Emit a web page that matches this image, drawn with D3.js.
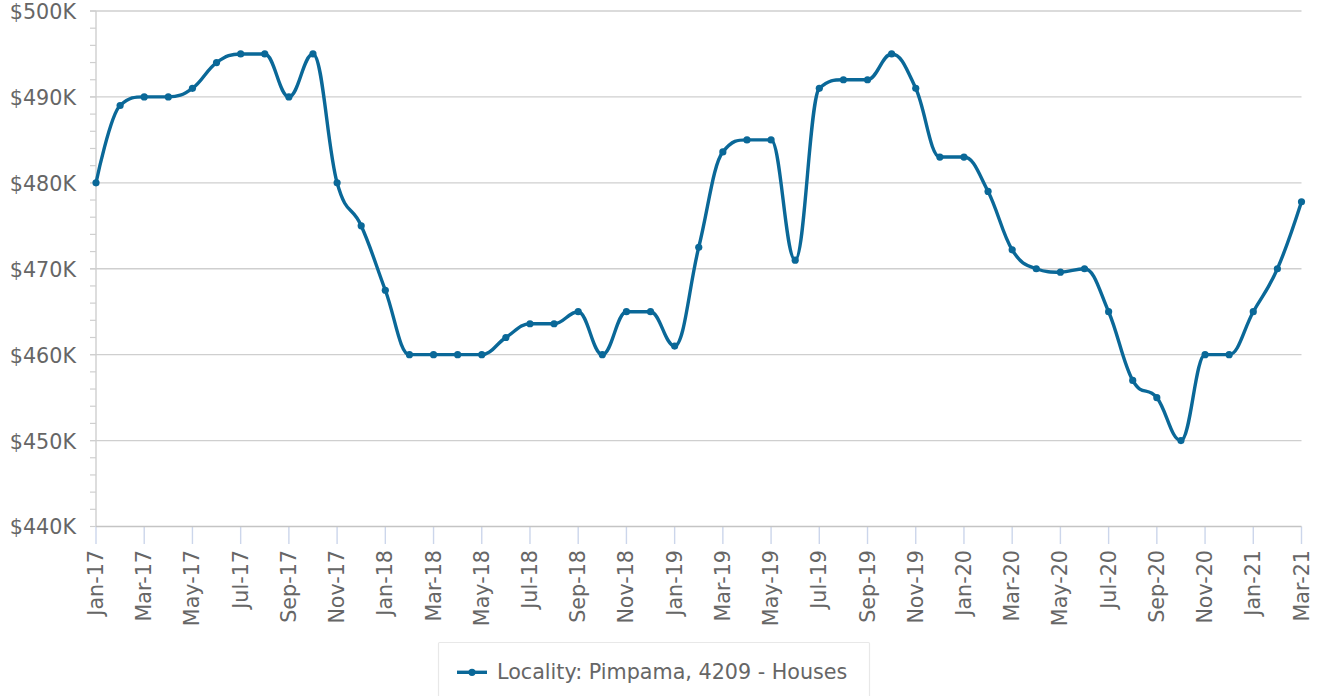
<!DOCTYPE html>
<html>
<head>
<meta charset="utf-8">
<script src="https://cdn.jsdelivr.net/npm/d3@7"></script>
<style>
  html, body { margin: 0; padding: 0; background: #fff; }
  svg { display: block; }
  text { font-family: "DejaVu Sans", sans-serif; fill: #666; }
</style>
</head>
<body>
<svg id="chart" width="1319" height="696"></svg>
<script>
// ---- data ----
const months = [
  "Jan-17","Feb-17","Mar-17","Apr-17","May-17","Jun-17","Jul-17","Aug-17","Sep-17","Oct-17","Nov-17","Dec-17",
  "Jan-18","Feb-18","Mar-18","Apr-18","May-18","Jun-18","Jul-18","Aug-18","Sep-18","Oct-18","Nov-18","Dec-18",
  "Jan-19","Feb-19","Mar-19","Apr-19","May-19","Jun-19","Jul-19","Aug-19","Sep-19","Oct-19","Nov-19","Dec-19",
  "Jan-20","Feb-20","Mar-20","Apr-20","May-20","Jun-20","Jul-20","Aug-20","Sep-20","Oct-20","Nov-20","Dec-20",
  "Jan-21","Feb-21","Mar-21"
];
const values = [
  480, 489, 490, 490, 491, 494, 495, 495, 490, 495, 480, 475,
  467.5, 460, 460, 460, 460, 462, 463.6, 463.6, 465, 460, 465, 465,
  461, 472.5, 483.6, 485, 485, 471, 491, 492, 492, 495, 491, 483,
  483, 479, 472.2, 470, 469.6, 470, 465, 457, 455, 450, 460, 460,
  465, 470, 477.8
];
const yTicks = [440, 450, 460, 470, 480, 490, 500];
const yMinorTicks = d3.range(440, 501, 2);
const xTickLabels = months.filter((m, i) => i % 2 === 0);
const seriesName = "Locality: Pimpama, 4209 - Houses";

// ---- Highcharts-like spline curve ----
function HSpline(context) { this._context = context; }
HSpline.prototype = {
  areaStart() { this._line = 0; },
  areaEnd() { this._line = NaN; },
  lineStart() { this._pts = []; },
  point(px, py) { this._pts.push([+px, +py]); },
  lineEnd() {
    const p = this._pts, n = p.length, ctx = this._context;
    if (!n) return;
    const sm = 1.5, den = sm + 1;
    const lc = [], rc = [];
    for (let i = 0; i < n; i++) {
      const [cx, cy] = p[i];
      if (i === 0 || i === n - 1) { lc.push([cx, cy]); rc.push([cx, cy]); continue; }
      const [lx, ly] = p[i - 1], [nx, ny] = p[i + 1];
      let lcx = (sm * cx + lx) / den, lcy = (sm * cy + ly) / den;
      let rcx = (sm * cx + nx) / den, rcy = (sm * cy + ny) / den;
      if (rcx !== lcx) {
        const corr = ((rcy - lcy) * (rcx - cx)) / (rcx - lcx) + cy - rcy;
        lcy += corr; rcy += corr;
      }
      if (lcy > ly && lcy > cy) { lcy = Math.max(ly, cy); rcy = 2 * cy - lcy; }
      else if (lcy < ly && lcy < cy) { lcy = Math.min(ly, cy); rcy = 2 * cy - lcy; }
      if (rcy > ny && rcy > cy) { rcy = Math.max(ny, cy); lcy = 2 * cy - rcy; }
      else if (rcy < ny && rcy < cy) { rcy = Math.min(ny, cy); lcy = 2 * cy - rcy; }
      lc.push([lcx, lcy]); rc.push([rcx, rcy]);
    }
    ctx.moveTo(p[0][0], p[0][1]);
    for (let i = 1; i < n; i++) {
      ctx.bezierCurveTo(rc[i - 1][0], rc[i - 1][1], lc[i][0], lc[i][1], p[i][0], p[i][1]);
    }
  }
};
const curveHSpline = ctx => new HSpline(ctx);

// ---- layout ----
const svg = d3.select("#chart");
const plotLeft = 96, plotRight = 1301.5, plotTop = 11, plotBottom = 526.5;
const color = "#0a6898";
const fontSize = 20.7;

const x = d3.scalePoint().domain(months).range([plotLeft, plotRight]);
const y = d3.scaleLinear().domain([440, 500]).range([plotBottom, plotTop]);

// gridlines
svg.append("g").selectAll("line").data(yTicks.filter(v => v !== 440)).join("line")
  .attr("x1", plotLeft - 6).attr("x2", plotRight).attr("y1", d => y(d)).attr("y2", d => y(d))
  .attr("stroke", "#cfcfcf").attr("stroke-width", 1.4);

// y minor ticks
svg.append("g").selectAll("line").data(yMinorTicks).join("line")
  .attr("x1", plotLeft - 6).attr("x2", plotLeft).attr("y1", d => y(d)).attr("y2", d => y(d))
  .attr("stroke", "#cfcfcf").attr("stroke-width", 1.2);

// y axis line
svg.append("line").attr("x1", plotLeft).attr("x2", plotLeft).attr("y1", plotTop).attr("y2", plotBottom)
  .attr("stroke", "#cfcfcf").attr("stroke-width", 1.4);

// y labels
const yAxis = d3.axisLeft(y).tickValues(yTicks).tickSize(0).tickPadding(0)
  .tickFormat(d => "$" + d + "K");
const gy = svg.append("g").attr("transform", `translate(${plotLeft - 20},0)`).call(yAxis);
gy.select(".domain").remove();
gy.selectAll("text").attr("font-size", fontSize).attr("font-family", "DejaVu Sans")
  .attr("fill", "#666").attr("dy", "0.36em");

// x ticks
svg.append("g").selectAll("line").data(xTickLabels).join("line")
  .attr("x1", d => x(d)).attr("x2", d => x(d)).attr("y1", plotBottom).attr("y2", plotBottom + 17.5)
  .attr("stroke", "#ccd6eb").attr("stroke-width", 1.4);

// x axis line
svg.append("line").attr("x1", plotLeft).attr("x2", plotRight).attr("y1", plotBottom).attr("y2", plotBottom)
  .attr("stroke", "#c4c4c4").attr("stroke-width", 1.6);

// x labels
svg.append("g").selectAll("text").data(xTickLabels).join("text")
  .attr("transform", d => `translate(${x(d) + 7},550) rotate(-90)`)
  .attr("text-anchor", "end").attr("font-size", fontSize).text(d => d);

// line
const line = d3.line().x((d, i) => x(months[i])).y(d => y(d)).curve(curveHSpline);
svg.append("path").datum(values).attr("d", line)
  .attr("fill", "none").attr("stroke", color).attr("stroke-width", 3.4)
  .attr("stroke-linejoin", "round").attr("stroke-linecap", "round");

// markers
svg.append("g").selectAll("circle").data(values).join("circle")
  .attr("cx", (d, i) => x(months[i])).attr("cy", d => y(d)).attr("r", 3.6)
  .attr("fill", color);

// legend
const lg = svg.append("g");
lg.append("rect").attr("x", 438.5).attr("y", 642.5).attr("width", 431).attr("height", 70)
  .attr("fill", "#fff").attr("stroke", "#e8e8e8").attr("stroke-width", 1.2).attr("rx", 1);
lg.append("line").attr("x1", 457).attr("x2", 487).attr("y1", 672.3).attr("y2", 672.3)
  .attr("stroke", color).attr("stroke-width", 3.4);
lg.append("circle").attr("cx", 472).attr("cy", 672.3).attr("r", 3.6).attr("fill", color);
lg.append("text").attr("x", 497).attr("y", 679).attr("font-size", fontSize).text(seriesName);
</script>
</body>
</html>
